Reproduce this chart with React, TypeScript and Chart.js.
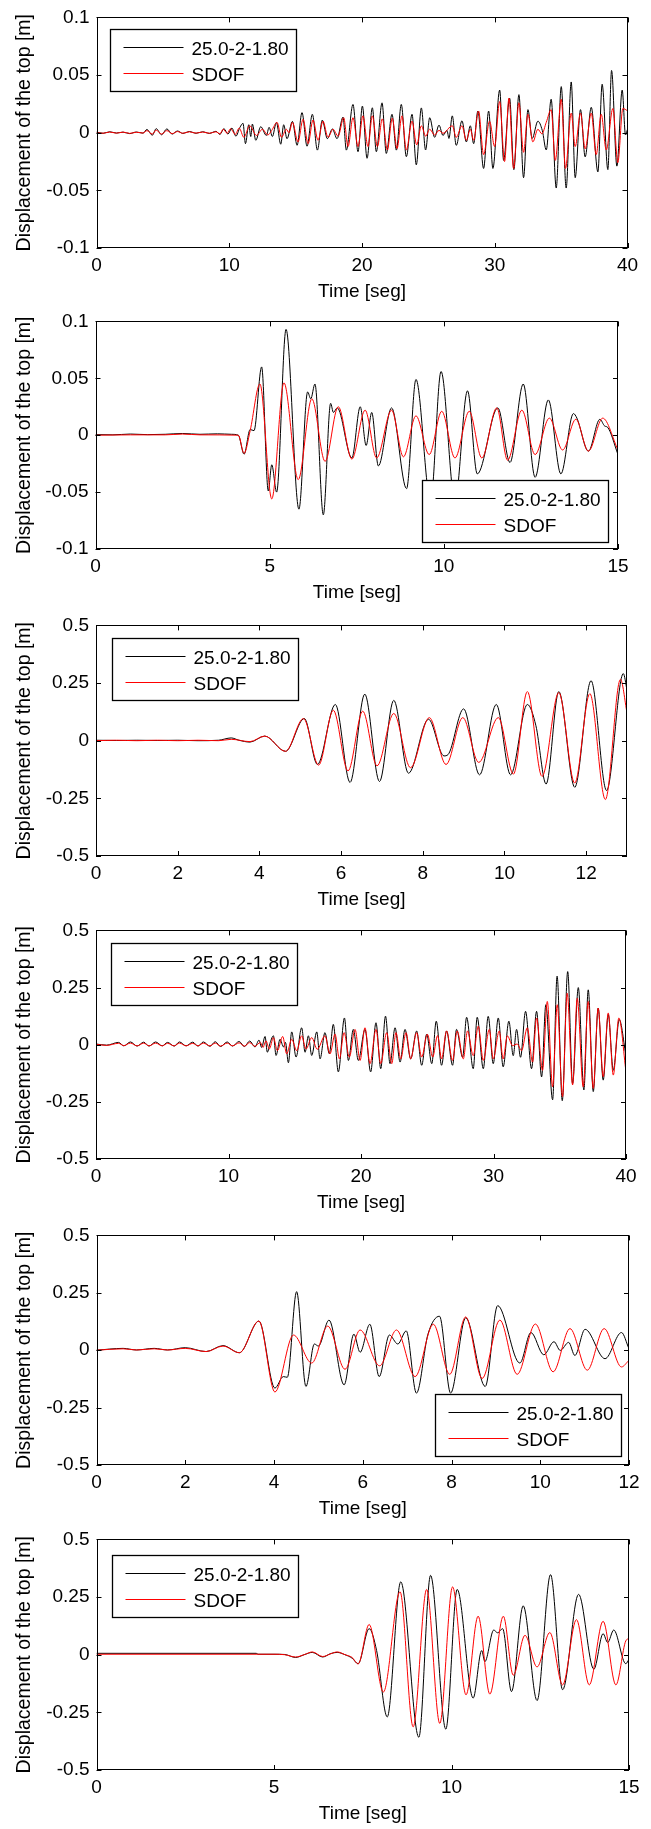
import React, { useEffect, useRef } from "react";
import { Chart, registerables } from "chart.js";
Chart.register(...registerables);

type Pt = [number, number];

const seriesLabels = ["25.0-2-1.80", "SDOF"];
const seriesColors = ["#000000", "#ff0000"];
const xAxisTitle = "Time [seg]";
const yAxisTitle = "Displacement of the top [m]";

const ticksX40 = [0, 10, 20, 30, 40];
const ticksX15 = [0, 5, 10, 15];
const ticksX13 = [0, 2, 4, 6, 8, 10, 12];
const ticksX12 = [0, 2, 4, 6, 8, 10, 12];
const ticksYsmall = [-0.1, -0.05, 0, 0.05, 0.1];
const ticksYlarge = [-0.5, -0.25, 0, 0.25, 0.5];

// Panel 1 (0-40 s)
const p1Black: Pt[] = [
  [0, 0.0005], [0.5, -0.0005], [1.0, 0.0008], [1.5, -0.0003], [2.0, 0.0005], [2.5, -0.0008], [3.0, 0.0006], [3.5, -0.0004],
  [3.8, 0.0028], [4.2, -0.0022], [4.5, 0.0035], [4.9, -0.0018], [5.3, 0.0033], [5.7, -0.0012], [6.1, 0.0015], [6.5, -0.0006],
  [7.0, 0.001], [7.5, -0.0005], [8.0, 0.0008], [8.5, -0.0006], [9.0, 0.0012], [9.3, -0.0015], [9.6, 0.0035], [9.9, -0.0012],
  [10.2, 0.004], [10.5, -0.003], [10.8, 0.0045], [11.04, 0.0081], [11.22, -0.0095], [11.47, 0.0069], [11.62, -0.0033],
  [11.74, 0.0075], [12.0, -0.0066], [12.37, 0.0052], [12.8, -0.0024], [13.0, 0.0047], [13.25, -0.0033], [13.55, 0.0089],
  [13.88, -0.01], [14.1, 0.0069], [14.35, -0.0052], [14.76, 0.0098], [15.11, -0.0109], [15.48, 0.0174], [15.86, -0.0117],
  [16.26, 0.016], [16.64, -0.0151], [17.01, 0.0109], [17.39, -0.0052], [17.77, 0.0032], [18.12, -0.0052], [18.57, 0.0135],
  [18.82, -0.0151], [19.32, 0.0245], [19.7, -0.0165], [20.03, 0.0231], [20.38, -0.0222], [20.78, 0.0216], [21.08, -0.0165],
  [21.51, 0.0259], [21.83, -0.018], [22.26, 0.016], [22.59, -0.0151], [22.96, 0.0245], [23.34, -0.0208], [23.77, 0.016],
  [24.09, -0.0279], [24.47, 0.0215], [24.79, -0.015], [25.1, 0.013], [25.47, -0.004], [25.8, 0.0066], [26.1, -0.0024],
  [26.4, 0.002], [26.55, -0.005], [26.8, 0.0146], [27.1, -0.011], [27.53, 0.0103], [27.86, -0.008], [28.16, 0.006],
  [28.41, -0.0095], [28.73, 0.0188], [29.16, -0.031], [29.54, 0.0188], [29.86, -0.031], [30.37, 0.037], [30.67, -0.024],
  [31.12, 0.03], [31.44, -0.032], [31.82, 0.033], [32.17, -0.039], [32.5, 0.02], [32.82, -0.005], [33.25, 0.01], [33.58, 0.002],
  [33.88, -0.015], [34.25, 0.029], [34.63, -0.048], [35.01, 0.04], [35.38, -0.048], [35.76, 0.044], [36.06, -0.039],
  [36.46, 0.02], [36.81, -0.021], [37.27, 0.022], [37.77, -0.034], [38.09, 0.042], [38.52, -0.032], [38.8, 0.054],
  [39.2, -0.029], [39.6, 0.037], [39.85, -0.002], [40, 0.003],
];
const p1Sdof: Pt[] = [
  [0, 0], [0.5, -0.0005], [1.0, 0.0006], [1.5, -0.0004], [2.0, 0.0005], [2.5, -0.0006], [3.0, 0.0004], [3.5, -0.0003],
  [3.8, 0.0018], [4.2, -0.0012], [4.5, 0.0022], [4.9, -0.0012], [5.3, 0.0018], [5.7, -0.0008], [6.1, 0.001], [6.5, -0.0005],
  [7.0, 0.0008], [7.5, -0.0004], [8.0, 0.0006], [8.5, -0.0005], [9.0, 0.0008], [9.3, -0.001], [9.54, 0.003], [9.85, -0.0005],
  [10.1, 0.0035], [10.45, -0.0015], [10.75, 0.004], [11.1, -0.004], [11.54, 0.006], [12.05, -0.0024], [12.5, 0.003],
  [12.9, -0.002], [13.2, 0.002], [13.6, 0.009], [13.93, -0.004], [14.3, 0.003], [14.5, 0.0], [14.76, 0.009], [15.18, -0.008],
  [15.56, 0.0117], [15.94, -0.0095], [16.31, 0.011], [16.69, -0.0066], [17.06, 0.01], [17.44, -0.004], [17.82, 0.003],
  [18.2, -0.003], [18.62, 0.013], [18.95, -0.012], [19.32, 0.013], [19.7, -0.012], [20.07, 0.0146], [20.45, -0.012],
  [20.78, 0.0146], [21.16, -0.012], [21.53, 0.012], [21.91, -0.015], [22.28, 0.0126], [22.64, -0.0137], [23.01, 0.0146],
  [23.34, -0.015], [23.77, 0.01], [24.12, -0.0105], [24.47, 0.006], [24.8, -0.003], [25.1, 0.003], [25.47, -0.002],
  [25.8, 0.002], [26.1, -0.0005], [26.8, 0.006], [27.1, -0.004], [27.53, 0.006], [27.86, -0.0066], [28.16, 0.003],
  [28.41, -0.0066], [28.78, 0.0188], [29.16, -0.019], [29.61, 0.01], [29.99, -0.012], [30.37, 0.027], [30.74, -0.025],
  [31.07, 0.03], [31.42, -0.031], [31.82, 0.026], [32.17, -0.017], [32.5, 0.016], [32.87, -0.008], [33.25, 0.003],
  [33.55, -0.001], [33.88, 0.009], [34.25, 0.02], [34.56, -0.024], [35.01, 0.029], [35.33, -0.031], [35.76, 0.017],
  [36.06, -0.012], [36.46, 0.017], [36.81, -0.014], [37.27, 0.017], [37.64, -0.019], [38.02, 0.016], [38.4, -0.015],
  [38.9, 0.021], [39.27, -0.026], [39.65, 0.021], [40, 0.019],
];

// Panel 2 (0-15 s)
const p2Black: Pt[] = [
  [0, 0.0005], [0.5, 0.0003], [1.0, 0.001], [1.5, 0.0005], [2.0, 0.0008], [2.5, 0.0015], [3.0, 0.0008], [3.5, 0.0012],
  [3.9, 0.0008], [4.1, 0], [4.265, -0.0167], [4.44, 0.005], [4.55, 0.004], [4.77, 0.06], [4.96, -0.049], [5.06, -0.026],
  [5.2, -0.05], [5.47, 0.093], [5.84, -0.065], [6.09, 0.038], [6.18, 0.032], [6.3, 0.045], [6.54, -0.07], [6.75, 0.028],
  [6.83, 0.02], [6.94, 0.024], [7.36, -0.02], [7.6, 0.025], [7.77, -0.009], [7.93, 0.02], [8.12, -0.027], [8.5, 0.024],
  [8.93, -0.047], [9.2, 0.049], [9.62, -0.058], [9.92, 0.056], [10.32, -0.058], [10.68, 0.039], [10.96, -0.034],
  [11.55, 0.024], [11.9, -0.024], [12.28, 0.045], [12.62, -0.037], [13.0, 0.031], [13.36, -0.034], [13.72, 0.019],
  [13.82, 0.015], [14.15, -0.014], [14.48, 0.014], [14.62, 0.008], [14.7, 0.007], [15, -0.017],
];
const p2Sdof: Pt[] = [
  [0, 0], [1, 0.0003], [2, 0.0003], [2.5, 0.001], [3, 0.0003], [4.1, 0], [4.265, -0.016], [4.44, 0.004], [4.72, 0.045],
  [5.06, -0.056], [5.41, 0.046], [5.82, -0.039], [6.21, 0.032], [6.59, -0.023], [6.97, 0.025], [7.36, -0.021], [7.74, 0.022],
  [8.07, -0.02], [8.5, 0.022], [8.84, -0.019], [9.2, 0.017], [9.58, -0.017], [9.94, 0.021], [10.32, -0.02], [10.73, 0.021],
  [11.09, -0.02], [11.52, 0.024], [11.83, -0.022], [12.24, 0.022], [12.62, -0.017], [13.03, 0.015], [13.41, -0.013],
  [13.79, 0.014], [14.15, -0.014], [14.56, 0.015], [15, -0.013],
];

// Panel 3 (0-13 s)
const p3Black: Pt[] = [
  [0, 0.002], [0.5, 0.001], [1, 0.002], [1.5, 0.001], [2, 0.002], [2.5, 0], [3, 0.002], [3.31, 0.012], [3.5, 0.002],
  [3.77, -0.006], [4.13, 0.02], [4.64, -0.046], [5.1, 0.096], [5.42, -0.103], [5.86, 0.157], [6.22, -0.181], [6.58, 0.202],
  [6.94, -0.177], [7.29, 0.175], [7.65, -0.141], [8.14, 0.093], [8.52, -0.066], [8.62, -0.06], [9.0, 0.138], [9.39, -0.148],
  [9.8, 0.157], [10.15, -0.148], [10.56, 0.157], [10.77, 0.065], [11.02, -0.188], [11.33, 0.213], [11.72, -0.202],
  [12.12, 0.26], [12.5, -0.216], [12.91, 0.291], [13, 0.22],
];
const p3Sdof: Pt[] = [
  [0, 0], [0.5, 0.002], [1, 0], [1.5, 0.002], [2, 0], [2.5, 0.002], [3, 0], [3.31, 0.006], [3.77, -0.004], [4.13, 0.02],
  [4.64, -0.046], [5.08, 0.096], [5.45, -0.106], [5.81, 0.132], [6.17, -0.131], [6.53, 0.128], [6.88, -0.109], [7.29, 0.118],
  [7.7, -0.117], [8.16, 0.1], [8.57, -0.103], [8.98, 0.1], [9.37, -0.094], [9.85, 0.1], [10.22, -0.145], [10.56, 0.213],
  [10.92, -0.155], [11.33, 0.209], [11.72, -0.184], [12.09, 0.204], [12.47, -0.255], [12.84, 0.266], [13, 0.121],
];

// Panel 4 (0-40 s)
const p4Black: Pt[] = [
  [0, 0.003], [0.8, -0.002], [1.7, 0.01], [2.1, -0.005], [2.6, 0.012], [3.1, -0.006], [3.6, 0.011], [4.0, -0.006],
  [4.5, 0.012], [5.0, -0.005], [5.4, 0.01], [5.9, -0.006], [6.3, 0.012], [6.8, -0.005], [7.3, 0.011], [7.7, -0.006],
  [8.1, 0.012], [8.6, -0.007], [9.0, 0.013], [9.4, -0.008], [9.9, 0.012], [10.3, -0.006], [10.8, 0.014], [11.2, -0.008],
  [11.6, 0.016], [12.0, -0.01], [12.3, 0.02], [12.5, -0.012], [12.76, 0.036], [12.93, -0.033], [13.15, 0.01], [13.39, 0.039],
  [13.59, -0.047], [13.89, 0.024], [14.15, -0.01], [14.3, 0.01], [14.52, -0.079], [14.77, 0.056], [15.1, -0.054],
  [15.52, 0.074], [15.78, -0.033], [16.03, 0.039], [16.28, -0.047], [16.66, 0.056], [16.91, -0.062], [17.28, 0.053],
  [17.61, -0.04], [17.91, 0.089], [18.29, -0.119], [18.75, 0.117], [19.05, -0.069], [19.42, 0.067], [19.8, -0.069],
  [20.3, 0.067], [20.73, -0.119], [21.13, 0.096], [21.49, -0.105], [21.85, 0.125], [22.19, -0.083], [22.57, 0.074],
  [22.95, -0.076], [23.32, 0.067], [23.75, -0.062], [24.2, 0.06], [24.58, -0.09], [24.96, 0.046], [25.34, -0.083],
  [25.68, 0.103], [26.08, -0.09], [26.46, 0.06], [26.91, -0.09], [27.21, 0.067], [27.67, -0.055], [27.97, 0.12],
  [28.47, -0.105], [28.77, 0.12], [29.23, -0.105], [29.6, 0.124], [29.98, -0.083], [30.36, 0.117], [30.73, -0.097],
  [31.16, 0.103], [31.49, -0.048], [31.74, 0.067], [32.04, -0.055], [32.42, 0.146], [32.87, -0.105], [33.25, 0.146],
  [33.63, -0.141], [33.95, 0.175], [34.46, -0.241], [34.8, 0.3], [35.19, -0.245], [35.6, 0.32], [35.97, -0.17], [36.4, 0.25],
  [36.82, -0.198], [37.15, 0.24], [37.53, -0.205], [37.9, 0.16], [38.28, -0.155], [38.66, 0.132], [39.04, -0.112],
  [39.49, 0.11], [40, -0.05],
];
const p4Sdof: Pt[] = [
  [0, 0.002], [0.8, -0.003], [1.7, 0.006], [2.1, -0.004], [2.6, 0.007], [3.1, -0.005], [3.6, 0.007], [4.0, -0.005],
  [4.5, 0.007], [5.0, -0.005], [5.4, 0.006], [5.9, -0.005], [6.3, 0.007], [6.8, -0.005], [7.3, 0.006], [7.7, -0.005],
  [8.1, 0.007], [8.6, -0.005], [9.0, 0.007], [9.4, -0.006], [9.9, 0.007], [10.3, -0.005], [10.8, 0.008], [11.2, -0.006],
  [11.6, 0.009], [12.0, -0.007], [12.4, 0.01], [12.6, -0.012], [12.83, 0.017], [13.08, -0.019], [13.39, 0.031],
  [13.69, -0.026], [14.09, 0.036], [14.39, -0.04], [14.77, 0.024], [15.15, -0.026], [15.52, 0.039], [15.85, -0.019],
  [16.28, 0.031], [16.7, -0.02], [17.28, 0.039], [17.66, -0.04], [18.04, 0.046], [18.37, -0.062], [18.72, 0.053],
  [19.12, -0.054], [19.55, 0.067], [19.93, -0.069], [20.3, 0.074], [20.68, -0.083], [21.13, 0.067], [21.49, -0.083],
  [21.94, 0.053], [22.32, -0.083], [22.64, 0.053], [23.0, -0.062], [23.4, 0.053], [23.75, -0.062], [24.2, 0.053],
  [24.58, -0.054], [25.01, 0.046], [25.41, -0.054], [25.78, 0.04], [26.08, -0.062], [26.46, 0.06], [26.91, -0.069],
  [27.26, 0.06], [27.72, -0.062], [28.04, 0.06], [28.47, -0.048], [28.85, 0.081], [29.23, -0.069], [29.68, 0.067],
  [29.98, -0.062], [30.43, 0.06], [30.73, -0.062], [31.04, 0.039], [31.44, -0.004], [31.79, 0.003], [32.12, -0.026],
  [32.55, 0.074], [32.95, -0.076], [33.25, 0.117], [33.7, -0.112], [34.06, 0.189], [34.46, -0.184], [34.81, 0.175],
  [35.21, -0.227], [35.56, 0.225], [35.97, -0.176], [36.32, 0.203], [36.77, -0.184], [37.15, 0.189], [37.53, -0.191],
  [37.9, 0.16], [38.28, -0.14], [38.66, 0.139], [39.04, -0.133], [39.46, 0.117], [40, -0.119],
];

// Panel 5 (0-12 s)
const p5Black: Pt[] = [
  [0, 0], [0.6, 0.008], [0.9, 0.001], [1.3, 0.008], [1.6, 0.001], [2.0, 0.011], [2.47, -0.006], [2.85, 0.02], [3.22, -0.011],
  [3.66, 0.127], [4.02, -0.165], [4.21, -0.115], [4.3, -0.118], [4.51, 0.255], [4.72, -0.158], [4.91, 0.027], [5.0, 0.018],
  [5.24, 0.131], [5.58, -0.151], [5.8, 0.07], [5.94, -0.009], [6.16, 0.113], [6.37, -0.115], [6.6, 0.066], [6.79, 0.027],
  [6.98, 0.084], [7.21, -0.187], [7.47, 0.07], [7.73, 0.148], [7.98, -0.187], [8.32, 0.141], [8.76, -0.158], [9.04, 0.194],
  [9.54, -0.056], [9.79, 0.077], [10.08, -0.02], [10.31, 0.037], [10.45, -0.001], [10.64, 0.034], [10.78, -0.023],
  [11.01, 0.091], [11.46, -0.037], [11.83, 0.077], [12, 0.006],
];
const p5Sdof: Pt[] = [
  [0, 0], [0.6, 0.006], [0.9, 0.001], [1.3, 0.006], [1.6, 0.001], [2.0, 0.008], [2.47, -0.006], [2.85, 0.018],
  [3.22, -0.011], [3.66, 0.127], [4.02, -0.182], [4.44, 0.066], [4.85, -0.056], [5.21, 0.105], [5.6, -0.083], [5.94, 0.088],
  [6.38, -0.068], [6.76, 0.088], [7.18, -0.115], [7.59, 0.113], [7.96, -0.105], [8.32, 0.145], [8.69, -0.123], [9.09, 0.131],
  [9.48, -0.105], [9.89, 0.114], [10.29, -0.094], [10.67, 0.094], [11.06, -0.087], [11.44, 0.094], [11.83, -0.073],
  [12, -0.044],
];

// Panel 6 (0-15 s)
const p6Black: Pt[] = [
  [0, 0.006], [4.5, 0.006], [4.55, 0.002], [5.0, 0.002], [5.3, 0.001], [5.61, -0.012], [5.85, 0], [6.08, 0.01], [6.37, -0.01],
  [6.6, 0.005], [6.78, 0.01], [7.0, 0], [7.2, -0.015], [7.37, -0.039], [7.68, 0.113], [7.89, 0.018], [8.19, -0.27],
  [8.57, 0.316], [9.08, -0.358], [9.41, 0.344], [9.84, -0.323], [10.16, 0.283], [10.61, -0.188], [10.85, 0.018],
  [10.94, -0.03], [11.19, 0.107], [11.3, 0.095], [11.44, 0.113], [11.69, -0.16], [12.02, 0.212], [12.41, -0.199],
  [12.79, 0.347], [13.13, -0.152], [13.58, 0.262], [14.01, -0.063], [14.27, 0.091], [14.4, 0.053], [14.57, 0.107],
  [14.91, -0.039], [15, -0.02],
];
const p6Sdof: Pt[] = [
  [0, 0.002], [5.0, 0.002], [5.3, 0], [5.61, -0.01], [5.85, 0], [6.08, 0.012], [6.37, -0.008], [6.6, 0.004], [6.78, 0.012],
  [7.0, 0], [7.2, -0.012], [7.37, -0.04], [7.68, 0.131], [8.08, -0.162], [8.55, 0.273], [8.92, -0.313], [9.3, 0.283],
  [9.67, -0.298], [10.03, 0.294], [10.41, -0.174], [10.75, 0.167], [11.08, -0.171], [11.46, 0.167], [11.74, -0.089],
  [12.07, 0.084], [12.41, -0.053], [12.77, 0.096], [13.13, -0.131], [13.52, 0.152], [13.88, -0.131], [14.27, 0.145],
  [14.63, -0.131], [14.91, 0.06], [15, 0.07],
];

interface PanelDef {
  xMax: number;
  xTicks: number[];
  yMax: number;
  yTicks: number[];
  black: Pt[];
  red: Pt[];
  plotTop: number;
  plotH: number;
  plotLeft: number;
  plotRight: number;
  legendCorner: "nw" | "se";
  legendDx: number;
  legendDy: number;
}

const panels: PanelDef[] = [
  { xMax: 40, xTicks: ticksX40, yMax: 0.1, yTicks: ticksYsmall, black: p1Black, red: p1Sdof,
    plotTop: 13, plotH: 235, plotLeft: 96.5, plotRight: 627.5, legendCorner: "nw", legendDx: 13.5, legendDy: 12 },
  { xMax: 15, xTicks: ticksX15, yMax: 0.1, yTicks: ticksYsmall, black: p2Black, red: p2Sdof,
    plotTop: 317, plotH: 232, plotLeft: 95.5, plotRight: 618, legendCorner: "se", legendDx: 10, legendDy: 7 },
  { xMax: 13, xTicks: ticksX13, yMax: 0.5, yTicks: ticksYlarge, black: p3Black, red: p3Sdof,
    plotTop: 621, plotH: 235, plotLeft: 96, plotRight: 627, legendCorner: "nw", legendDx: 15.5, legendDy: 13 },
  { xMax: 40, xTicks: ticksX40, yMax: 0.5, yTicks: ticksYlarge, black: p4Black, red: p4Sdof,
    plotTop: 926, plotH: 233, plotLeft: 96, plotRight: 626, legendCorner: "nw", legendDx: 15, legendDy: 12.5 },
  { xMax: 12, xTicks: ticksX12, yMax: 0.5, yTicks: ticksYlarge, black: p5Black, red: p5Sdof,
    plotTop: 1231, plotH: 234, plotLeft: 96.5, plotRight: 629, legendCorner: "se", legendDx: 8, legendDy: 9 },
  { xMax: 15, xTicks: ticksX15, yMax: 0.5, yTicks: ticksYlarge, black: p6Black, red: p6Sdof,
    plotTop: 1535, plotH: 235, plotLeft: 96.5, plotRight: 629, legendCorner: "nw", legendDx: 15, legendDy: 16 },
];

const PAD_TOP = 14;
const X_AXIS_H = 58;
const CANVAS_W = 651;
const FONT = "'Liberation Sans', Arial, Helvetica, sans-serif";

const fmt = (v: number | string) => String(parseFloat(Number(v).toFixed(3)));

const frameTicksPlugin = {
  id: "frameTicks",
  afterDraw(chart: any) {
    const { ctx, chartArea: a, scales } = chart;
    const L = 5;
    ctx.save();
    ctx.strokeStyle = "#000";
    ctx.lineWidth = 1;
    const line = (x1: number, y1: number, x2: number, y2: number) => {
      ctx.beginPath();
      ctx.moveTo(x1, y1);
      ctx.lineTo(x2, y2);
      ctx.stroke();
    };
    scales.x.ticks.forEach((t: any) => {
      const px = Math.round(scales.x.getPixelForValue(t.value)) + 0.5;
      line(px, a.bottom, px, a.bottom - L);
      line(px, a.top, px, a.top + L);
    });
    scales.y.ticks.forEach((t: any) => {
      const py = Math.round(scales.y.getPixelForValue(t.value)) + 0.5;
      line(a.left, py, a.left + L, py);
      line(a.right, py, a.right - L, py);
    });
    const l = Math.round(a.left) + 0.5;
    const r = Math.round(a.right) - 0.5;
    const tp = Math.round(a.top) + 0.5;
    const b = Math.round(a.bottom) - 0.5;
    ctx.strokeRect(l, tp, r - l, b - tp);
    ctx.restore();
  },
};

const boxLegendPlugin = {
  id: "boxLegend",
  afterDatasetsDraw(chart: any, _args: any, opts: any) {
    const { ctx, chartArea: a } = chart;
    const w = 186;
    const h = 62;
    let x0: number;
    let y0: number;
    if (opts.corner === "nw") {
      x0 = a.left + opts.dx;
      y0 = a.top + opts.dy;
    } else {
      x0 = a.right - opts.dx - w;
      y0 = a.bottom - opts.dy - h;
    }
    x0 = Math.round(x0) + 0.5;
    y0 = Math.round(y0) + 0.5;
    ctx.save();
    ctx.fillStyle = "#ffffff";
    ctx.fillRect(x0, y0, w, h);
    ctx.strokeStyle = "#000";
    ctx.lineWidth = 1.3;
    ctx.strokeRect(x0, y0, w, h);
    chart.data.datasets.forEach((ds: any, i: number) => {
      const ly = Math.round(y0 + (i === 0 ? 17 : 43.5)) + 0.5;
      ctx.strokeStyle = ds.borderColor;
      ctx.lineWidth = 1;
      ctx.beginPath();
      ctx.moveTo(x0 + 13, ly);
      ctx.lineTo(x0 + 73, ly);
      ctx.stroke();
      ctx.fillStyle = "#000";
      ctx.font = `19px ${FONT}`;
      ctx.textBaseline = "middle";
      ctx.textAlign = "left";
      ctx.fillText(ds.label, x0 + 81, ly + 2);
    });
    ctx.restore();
  },
};

function Panel({ def }: { def: PanelDef }) {
  const ref = useRef<HTMLCanvasElement | null>(null);
  const canvasH = PAD_TOP + def.plotH + X_AXIS_H;
  useEffect(() => {
    if (!ref.current) return;
    const toXY = (pts: Pt[]) => pts.map(([x, y]) => ({ x, y }));
    const chart = new Chart(ref.current, {
      type: "line",
      data: {
        datasets: [
          {
            label: seriesLabels[0],
            data: toXY(def.black),
            borderColor: seriesColors[0],
            borderWidth: 1,
            pointRadius: 0,
            cubicInterpolationMode: "monotone",
            fill: false,
            order: 1,
          },
          {
            label: seriesLabels[1],
            data: toXY(def.red),
            borderColor: seriesColors[1],
            borderWidth: 1,
            pointRadius: 0,
            cubicInterpolationMode: "monotone",
            fill: false,
            order: 0,
          },
        ],
      },
      options: {
        animation: false,
        responsive: false,
        maintainAspectRatio: false,
        devicePixelRatio: 1,
        layout: { padding: { top: PAD_TOP, left: 0, right: CANVAS_W - def.plotRight, bottom: 0 } },
        plugins: {
          legend: { display: false },
          tooltip: { enabled: false },
          title: { display: false },
          boxLegend: { corner: def.legendCorner, dx: def.legendDx, dy: def.legendDy },
        } as any,
        scales: {
          x: {
            type: "linear",
            min: 0,
            max: def.xMax,
            afterBuildTicks: (s: any) => {
              s.ticks = def.xTicks.map((v) => ({ value: v }));
            },
            afterFit: (s: any) => {
              s.height = X_AXIS_H;
            },
            grid: { display: false, drawTicks: false },
            border: { display: false },
            ticks: {
              padding: 6.5,
              color: "#000",
              font: { size: 19, family: FONT },
              maxRotation: 0,
              autoSkip: false,
              callback: (v: any) => fmt(v),
            },
            title: {
              display: true,
              text: xAxisTitle,
              color: "#000",
              font: { size: 19, family: FONT },
              padding: { top: 0, bottom: 3 },
            },
          },
          y: {
            type: "linear",
            min: -def.yMax,
            max: def.yMax,
            afterBuildTicks: (s: any) => {
              s.ticks = def.yTicks.map((v) => ({ value: v }));
            },
            afterFit: (s: any) => {
              s.width = def.plotLeft;
            },
            grid: { display: false, drawTicks: false },
            border: { display: false },
            ticks: {
              padding: 7,
              color: "#000",
              font: { size: 19, family: FONT },
              autoSkip: false,
              callback: (v: any) => fmt(v),
            },
            title: {
              display: true,
              text: yAxisTitle,
              color: "#000",
              font: { size: 19.5, family: FONT },
              padding: { top: 13, bottom: 0 },
            },
          },
        },
      } as any,
      plugins: [boxLegendPlugin, frameTicksPlugin],
    });
    return () => chart.destroy();
  }, [def]);
  return (
    <canvas
      ref={ref}
      width={CANVAS_W}
      height={canvasH}
      style={{
        position: "absolute",
        left: 0,
        top: def.plotTop - PAD_TOP,
        width: CANVAS_W,
        height: canvasH,
        display: "block",
      }}
    />
  );
}

export default function App() {
  return (
    <div
      style={{
        position: "absolute",
        left: 0,
        top: 0,
        width: CANVAS_W,
        height: 1829,
        background: "#ffffff",
        overflow: "hidden",
      }}
    >
      {panels.map((p, i) => (
        <Panel key={i} def={p} />
      ))}
    </div>
  );
}
